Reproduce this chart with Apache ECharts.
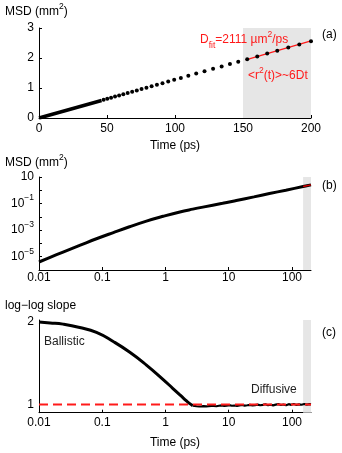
<!DOCTYPE html>
<html>
<head>
<meta charset="utf-8">
<script src="https://cdn.jsdelivr.net/npm/echarts@6/dist/echarts.min.js"></script>
<style>
html, body { margin: 0; padding: 0; background: #fff; }
#chart { width: 342px; height: 453px; }
</style>
</head>
<body>
<div id="chart"></div>
<script>
// (a) MSD vs time, linear axes
const denseT = [0, 46]
const denseMsd = [0, 0.585]
const dotT = [47.5, 50.2, 53.0, 55.9, 58.9, 62.0, 65.2, 68.5, 71.9, 75.4, 79.0, 82.8, 86.7, 90.8, 95.0, 99.4,
  104.3, 109.8, 115.6, 121.7, 128.0, 134.3, 140.4, 146.5, 153.1, 160.5, 167.8, 175.2, 183.3, 191.4, 200.0]
const dotMsd = [0.608, 0.643, 0.678, 0.716, 0.754, 0.794, 0.835, 0.877, 0.920, 0.965, 1.011, 1.060, 1.110, 1.162, 1.216, 1.272,
  1.335, 1.405, 1.480, 1.558, 1.638, 1.719, 1.797, 1.875, 1.960, 2.054, 2.148, 2.243, 2.346, 2.450, 2.560]
const fitT = [152, 200]
const fitMsd = [1.94, 2.57]
const fitBand = [150, 200]

// (b) MSD, log-log
const logT = [0.01, 0.015, 0.024, 0.045, 0.081, 0.15, 0.27, 0.5, 0.92, 1.69, 2.7, 3.9, 8, 13.2, 25, 44, 80, 150, 200]
const logMsd = [4.0e-6, 9.0e-6, 2.25e-5, 7.4e-5, 2.25e-4, 6.6e-4, 1.8e-3, 4.8e-3, 0.011, 0.0235, 0.038, 0.054, 0.104, 0.17, 0.32, 0.57, 1.02, 1.92, 2.56]
const logFitT = [150, 200]
const logFitMsd = [1.92, 2.56]

// (c) local log-log slope
const slopeT = [0.01, 0.015, 0.024, 0.044, 0.081, 0.149, 0.273, 0.5, 0.92, 1.3, 1.69, 2.1, 2.36, 2.7]
const slopeV = [1.995, 1.985, 1.97, 1.93, 1.87, 1.76, 1.63, 1.475, 1.30, 1.195, 1.115, 1.05, 1.015, 0.985]
const plateauT = [2.7, 3.1, 3.4, 3.7, 4.0, 4.4, 4.8, 5.3, 5.8, 6.4, 7.0, 7.7, 8.5, 9.3, 10.2, 11.2, 12.3, 13.5, 14.8, 16.3,
  17.9, 19.7, 21.6, 23.8, 26.1, 28.7, 31.5, 34.6, 38.0, 41.8, 45.9, 50.4, 55.4, 60.9, 66.9, 73.5, 80.8, 88.8, 97.5,
  107, 118, 130, 142, 156, 172, 189, 200]
const plateauV = [0.985, 0.978, 0.975, 0.977, 0.980, 0.976, 0.979, 0.983, 0.981, 0.978, 0.984, 0.988, 0.982, 0.986, 0.991,
  0.984, 0.987, 0.983, 0.989, 0.993, 0.986, 0.990, 0.995, 0.988, 0.992, 0.998, 0.990, 0.994, 1.002, 0.991, 0.996,
  0.989, 0.997, 1.004, 0.993, 0.999, 0.990, 1.003, 0.995, 1.006, 0.994, 1.001, 0.996, 1.005, 0.997, 1.003, 1.000]
const diffusiveLevel = 1

const linTicks = [0, 50, 100, 150, 200]
const logTicksX = [0.01, 0.1, 1, 10, 100]
const logTicksY = [1e-6, 1e-5, 1e-4, 1e-3, 1e-2, 1e-1, 1, 10]
const logLabelsY = [1e-5, 1e-3, 1e-1, 10]
const slopeTicks = [1, 2]

const font = 'Liberation Sans, Arial, sans-serif'
const pts = (xs, ys) => xs.map((x, i) => [x, ys[i]])

const axisLine = { show: true, onZero: false, lineStyle: { color: '#000', width: 1 } }
const tick = (vals) => ({ show: true, inside: true, length: 3, lineStyle: { color: '#000' }, customValues: vals })
const band = () => ({
  silent: true,
  itemStyle: { color: '#e6e6e6' },
  data: [[{ xAxis: fitBand[0] }, { xAxis: fitBand[1] }]]
})
const sup = { fontSize: 8.5, fontFamily: font, verticalAlign: 'top', lineHeight: 10 }
const subS = { fontSize: 8.5, fontFamily: font, verticalAlign: 'bottom', lineHeight: 10 }
const base = { fontSize: 12, fontFamily: font, lineHeight: 20 }

const logXLabel = {
  color: '#000', fontSize: 12, fontFamily: font, customValues: logTicksX,
  formatter: v => {
    const e = Math.round(Math.log10(v))
    return e < 0 ? (1 / Math.pow(10, -e)).toFixed(-e) : String(Math.pow(10, e))
  }
}

function txt(x, y, text, extra) {
  const c = extra && extra.fill || '#000'
  return {
    type: 'text', x: x, y: y, z: 100, silent: true,
    style: Object.assign({
      text: text, fill: '#000', fontSize: 12, fontFamily: font, textVerticalAlign: 'middle',
      rich: {
        b: Object.assign({ fill: c }, base),
        s: Object.assign({ fill: c }, sup),
        d: Object.assign({ fill: c }, subS)
      }
    }, extra)
  }
}

const chart = echarts.init(document.getElementById('chart'), null, { renderer: 'canvas' })
chart.setOption({
  animation: false,
  grid: [
    { left: 39, width: 272, top: 28, height: 90 },
    { left: 39, width: 272, top: 177, height: 93 },
    { left: 39, width: 272, top: 320, height: 92.7 }
  ],
  xAxis: [
    {
      gridIndex: 0, type: 'value', min: 0, max: 200, interval: 50,
      axisLine: axisLine, axisTick: tick(linTicks), splitLine: { show: false },
      axisLabel: { color: '#000', fontSize: 12, fontFamily: font, margin: 5 }
    },
    {
      gridIndex: 1, type: 'log', logBase: 10, min: 0.01, max: 200,
      axisLine: axisLine, axisTick: tick(logTicksX), splitLine: { show: false },
      axisLabel: Object.assign({ margin: 2 }, logXLabel)
    },
    {
      gridIndex: 2, type: 'log', logBase: 10, min: 0.01, max: 200,
      axisLine: axisLine, axisTick: tick(logTicksX), splitLine: { show: false },
      axisLabel: Object.assign({ margin: 4 }, logXLabel)
    }
  ],
  yAxis: [
    {
      gridIndex: 0, type: 'value', min: 0, max: 3, interval: 1,
      axisLine: axisLine, axisTick: tick([0, 1, 2, 3]), splitLine: { show: false },
      axisLabel: { color: '#000', fontSize: 12, fontFamily: font, margin: 5 }
    },
    {
      gridIndex: 1, type: 'log', logBase: 10, min: 1e-6, max: 10,
      axisLine: axisLine, axisTick: tick(logTicksY), splitLine: { show: false },
      axisLabel: {
        color: '#000', margin: 5, customValues: logLabelsY,
        formatter: v => {
          const e = Math.round(Math.log10(v))
          return e === 1 ? '{b|10}' : '{b|10}{s|\u2212' + (-e) + '}'
        },
        rich: { b: Object.assign({ color: '#000' }, base), s: Object.assign({ color: '#000' }, sup) }
      }
    },
    {
      gridIndex: 2, type: 'value', min: 0.9, max: 2.02,
      axisLine: axisLine, axisTick: tick(slopeTicks), splitLine: { show: false },
      axisLabel: { color: '#000', fontSize: 12, fontFamily: font, margin: 5, customValues: slopeTicks }
    }
  ],
  series: [
    // (a)
    {
      type: 'line', xAxisIndex: 0, yAxisIndex: 0, z: 1, symbol: 'none',
      data: pts(denseT, denseMsd), lineStyle: { color: '#000', width: 3.5 },
      markArea: band()
    },
    {
      type: 'line', xAxisIndex: 0, yAxisIndex: 0, z: 2, symbol: 'none',
      data: pts(fitT, fitMsd), lineStyle: { color: '#ff1a1a', width: 1.2 }
    },
    {
      type: 'scatter', xAxisIndex: 0, yAxisIndex: 0, z: 3, symbolSize: 4,
      data: pts(dotT, dotMsd), itemStyle: { color: '#000', opacity: 1 }
    },
    // (b)
    {
      type: 'line', xAxisIndex: 1, yAxisIndex: 1, z: 2, symbol: 'none', smooth: 0.4,
      data: pts(logT, logMsd), lineStyle: { color: '#000', width: 3 },
      markArea: band()
    },
    {
      type: 'line', xAxisIndex: 1, yAxisIndex: 1, z: 3, symbol: 'none',
      data: pts(logFitT, logFitMsd), lineStyle: { color: '#d40000', width: 1.5 }
    },
    // (c)
    {
      type: 'line', xAxisIndex: 2, yAxisIndex: 2, z: 2, symbol: 'none', smooth: 0.5,
      data: pts(slopeT, slopeV), lineStyle: { color: '#000', width: 3 },
      markArea: band()
    },
    {
      type: 'line', xAxisIndex: 2, yAxisIndex: 2, z: 2, symbol: 'none',
      data: pts(plateauT, plateauV), lineStyle: { color: '#000', width: 2.2 }
    },
    {
      type: 'line', xAxisIndex: 2, yAxisIndex: 2, z: 3, symbol: 'none',
      data: [[0.01, diffusiveLevel], [200, diffusiveLevel]],
      lineStyle: { color: '#ff1a1a', width: 2, type: [9, 5] }
    }
  ],
  graphic: [
    txt(5, 12, '{b|MSD (mm}{s|2}{b|)}'),
    txt(175, 146, 'Time (ps)', { textAlign: 'center' }),
    txt(322, 35, '(a)'),
    txt(200, 40, '{b|D}{d|fit}{b|=2111 \u00b5m}{s|2}{b|/ps}', { fill: '#ff1a1a' }),
    txt(248, 76, '{b|<r}{s|2}{b|(t)>~6Dt}', { fill: '#ff1a1a' }),
    txt(5, 163, '{b|MSD (mm}{s|2}{b|)}'),
    txt(322, 186, '(b)'),
    txt(5, 306, 'log\u2212log slope'),
    txt(322, 333, '(c)'),
    txt(44, 342, 'Ballistic', { fill: '#222' }),
    txt(251, 390, 'Diffusive', { fill: '#222' }),
    txt(175, 443, 'Time (ps)', { textAlign: 'center' })
  ]
})
</script>
</body>
</html>
